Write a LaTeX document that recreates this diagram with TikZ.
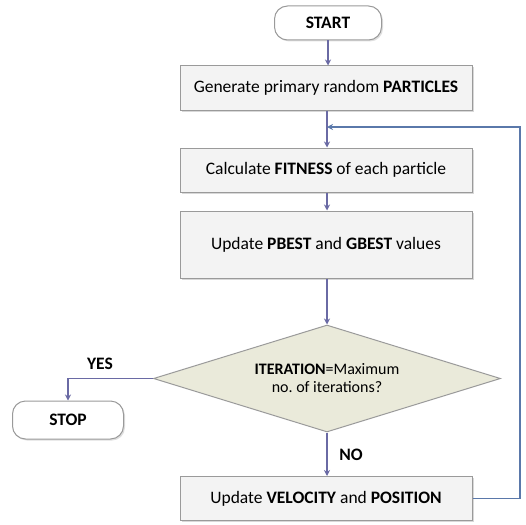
\documentclass[tikz,border=0pt]{standalone}
\usepackage{fontspec}
\setmainfont{Carlito}
\usetikzlibrary{arrows.meta,shapes.geometric,shadows}
\definecolor{boxfill}{HTML}{F3F3F3}
\definecolor{boxline}{HTML}{9A9A9A}
\definecolor{diafill}{HTML}{EAEADA}
\definecolor{arrowc}{HTML}{6A6AA4}
\definecolor{loopc}{HTML}{5A78AA}
\begin{document}
\begin{tikzpicture}[x=1pt,y=-1pt,
  procbox/.style={draw=boxline,fill=boxfill,line width=1pt,minimum width=292pt,
    font=\fontsize{17.5}{20}\selectfont,align=center,
    drop shadow={shadow xshift=1.5pt,shadow yshift=-1.5pt,fill=black!30}},
  termbox/.style={draw=boxline,fill=white,line width=1pt,rounded corners=13pt,
    font=\fontsize{17.5}{20}\selectfont\bfseries,
    drop shadow={shadow xshift=1.5pt,shadow yshift=-1.5pt,fill=black!25}},
  decbox/.style={draw=boxline,fill=diafill,line width=1pt,diamond,aspect=3.2,
    inner sep=0pt,minimum width=347pt,minimum height=107pt,
    font=\fontsize{16}{18}\selectfont,align=center},
  flow/.style={draw=arrowc,line width=1.4pt,-{Stealth[length=6pt,width=6pt]}},
  loopline/.style={draw=loopc,line width=1.4pt,-{Stealth[length=6pt,width=6pt]}},
  lbl/.style={font=\fontsize{17.5}{20}\selectfont\bfseries}]
\useasboundingbox (0,0) rectangle (526,524);
\node[termbox,minimum width=107pt,minimum height=34pt] (start) at (328,23) {START};
\node[procbox,minimum height=44pt] (gen) at (326,88) {Generate primary random \textbf{PARTICLES}};
\node[procbox,minimum height=44pt] (fit) at (326,170) {Calculate \textbf{FITNESS} of each particle};
\node[procbox,minimum height=67pt] (upd) at (326,244.5) {Update \textbf{PBEST} and \textbf{GBEST} values};
\node[decbox] (dec) at (327,378.5) {\textbf{ITERATION}=Maximum\\no.\ of iterations?};
\node[termbox,minimum width=111pt,minimum height=38pt] (stop) at (68,420) {STOP};
\node[procbox,minimum height=44pt] (vel) at (326,498.5) {Update \textbf{VELOCITY} and \textbf{POSITION}};
\coordinate (join) at (327,127);
\coordinate (rc) at (520,127);
\node[lbl] (yes) at (100,364) {YES};
\node[lbl] (no) at (351,455) {NO};
\draw[flow] (start.south) -- (gen.north -| start.south);
\draw[flow] (gen.south -| dec.north) -- (fit.north -| dec.north);
\draw[flow] (fit.south -| dec.north) -- (upd.north -| dec.north);
\draw[flow] (upd.south -| dec.north) -- (dec.north);
\draw[flow] (dec.west) -| (stop.north);
\draw[flow] (dec.south) -- (vel.north -| dec.south);
\draw[loopline] (vel.east) -| (rc) -- (join);
\end{tikzpicture}
\end{document}
